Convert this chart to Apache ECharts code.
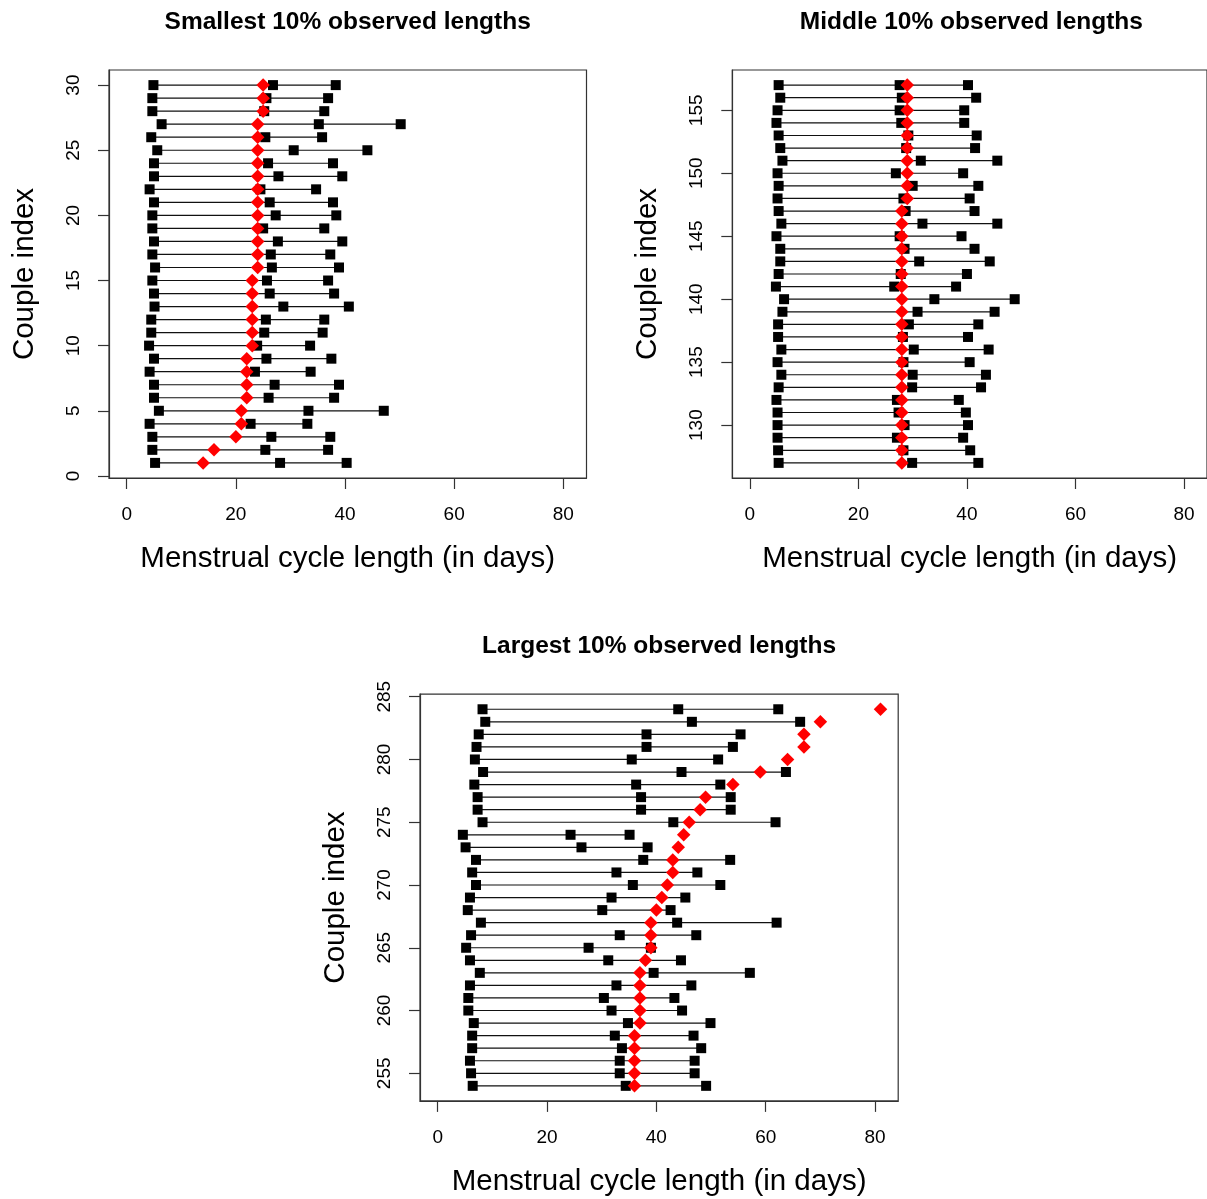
<!DOCTYPE html>
<html>
<head>
<meta charset="utf-8">
<script src="https://cdn.jsdelivr.net/npm/echarts@6/dist/echarts.min.js"></script>
<style>
  body { margin: 0; background: #fff; }
  #main { width: 1207px; height: 1199px; }
</style>
</head>
<body>
<div id="main"></div>
<script>
// x ticks shared by all panels
const xTicks = [0, 20, 40, 60, 80];

// smallest 10%
const smallRows = [1, 2, 3, 4, 5, 6, 7, 8, 9, 10, 11, 12, 13, 14, 15, 16, 17, 18, 19, 20, 21, 22, 23, 24, 25, 26, 27, 28, 29, 30];
const smallMin = [5.2, 4.7, 4.7, 4.2, 5.9, 5.0, 5.0, 4.2, 5.0, 4.1, 4.5, 4.5, 5.1, 5.0, 4.7, 5.2, 4.7, 5.0, 4.7, 4.7, 5.0, 4.2, 5.0, 5.0, 5.6, 4.5, 6.4, 4.7, 4.7, 4.9];
const smallMid = [28.1, 25.4, 26.5, 22.7, 33.3, 26.0, 27.1, 23.5, 25.6, 23.9, 25.2, 25.5, 28.7, 26.2, 25.7, 26.6, 26.4, 27.7, 25.0, 27.3, 26.2, 24.5, 27.8, 25.9, 30.6, 25.4, 35.2, 25.2, 25.6, 26.8];
const smallMax = [40.3, 36.9, 37.3, 33.1, 47.1, 38.0, 38.9, 33.7, 37.5, 33.6, 35.9, 36.2, 40.7, 38.0, 36.9, 38.9, 37.3, 39.5, 36.2, 38.4, 37.8, 34.7, 39.5, 37.8, 44.1, 35.8, 50.2, 36.2, 36.9, 38.3];
const smallEst = [14, 16, 20, 21, 21, 22, 22, 22, 22, 23, 23, 23, 23, 23, 23, 24, 24, 24, 24, 24, 24, 24, 24, 24, 24, 24, 24, 25, 25, 25];
const smallTicks = [0, 5, 10, 15, 20, 25, 30];

// middle 10%
const midRows = [127, 128, 129, 130, 131, 132, 133, 134, 135, 136, 137, 138, 139, 140, 141, 142, 143, 144, 145, 146, 147, 148, 149, 150, 151, 152, 153, 154, 155, 156, 157];
const midMin = [5.3, 5.2, 5.1, 5.1, 5.1, 4.9, 5.3, 5.8, 5.1, 5.8, 5.2, 5.2, 6.0, 6.3, 4.8, 5.3, 5.6, 5.6, 4.9, 5.8, 5.3, 5.1, 5.3, 5.1, 6.0, 5.6, 5.3, 4.9, 5.1, 5.6, 5.3];
const midMid = [29.9, 28.3, 27.1, 28.5, 27.4, 27.1, 29.9, 30.0, 28.3, 30.2, 28.2, 29.3, 30.9, 34.0, 26.6, 27.8, 31.2, 28.5, 27.6, 31.8, 28.7, 28.3, 30.0, 26.9, 31.5, 28.8, 29.2, 27.9, 27.6, 28.0, 27.6];
const midMax = [42.1, 40.6, 39.3, 40.2, 39.8, 38.5, 42.6, 43.5, 40.5, 44.0, 40.2, 42.1, 45.1, 48.8, 38.0, 40.0, 44.2, 41.4, 39.0, 45.6, 41.4, 40.5, 42.1, 39.3, 45.6, 41.5, 41.8, 39.5, 39.5, 41.7, 40.2];
const midEst = [28, 28, 28, 28, 28, 28, 28, 28, 28, 28, 28, 28, 28, 28, 28, 28, 28, 28, 28, 28, 28, 29, 29, 29, 29, 29, 29, 29, 29, 29, 29];
const midTicks = [130, 135, 140, 145, 150, 155];

// largest 10%
const largeRows = [254, 255, 256, 257, 258, 259, 260, 261, 262, 263, 264, 265, 266, 267, 268, 269, 270, 271, 272, 273, 274, 275, 276, 277, 278, 279, 280, 281, 282, 283, 284];
const largeMin = [6.4, 6.1, 5.9, 6.3, 6.3, 6.6, 5.6, 5.6, 5.9, 7.7, 5.9, 5.2, 6.1, 7.9, 5.5, 5.9, 7.0, 6.3, 7.0, 5.1, 4.6, 8.2, 7.3, 7.3, 6.7, 8.3, 6.8, 7.1, 7.5, 8.7, 8.2];
const largeMid = [34.4, 33.3, 33.3, 33.7, 32.4, 34.8, 31.8, 30.4, 32.7, 39.5, 31.2, 27.6, 33.3, 43.8, 30.1, 31.8, 35.7, 32.7, 37.6, 26.3, 24.3, 43.1, 37.2, 37.2, 36.3, 44.6, 35.5, 38.2, 38.2, 46.5, 44.0];
const largeMax = [49.1, 47.0, 47.0, 48.2, 46.8, 49.9, 44.7, 43.3, 46.4, 57.1, 44.5, 39.0, 47.3, 62.0, 42.6, 45.3, 51.7, 47.5, 53.5, 38.4, 35.1, 61.8, 53.6, 53.6, 51.7, 63.7, 51.3, 54.0, 55.4, 66.3, 62.3];
const largeEst = [36, 36, 36, 36, 36, 37, 37, 37, 37, 37, 38, 39, 39, 39, 40, 41, 42, 43, 43, 44, 45, 46, 48, 49, 54, 59, 64, 67, 67, 70, 81];
const largeTicks = [255, 260, 265, 270, 275, 280, 285];

const FONT = "'Liberation Sans', Arial, sans-serif";
const chart = echarts.init(document.getElementById('main'));

function xAxisFor(gi) {
  return {
    gridIndex: gi,
    type: 'value',
    min: -3.24,
    max: 84.24,
    name: 'Menstrual cycle length (in days)',
    nameLocation: 'middle',
    nameGap: 66,
    nameTextStyle: { fontFamily: FONT, fontSize: 29.5, color: '#000' },
    axisLine: { show: true, onZero: false, lineStyle: { color: '#333', width: 1.2 } },
    axisTick: { show: true, length: 11, customValues: xTicks, lineStyle: { color: '#333', width: 1.2 } },
    axisLabel: { customValues: xTicks, margin: 27, fontFamily: FONT, fontSize: 19, color: '#000' },
    splitLine: { show: false }
  };
}

function yAxisFor(gi, rows, ticks) {
  const ext = (rows[rows.length - 1] - rows[0]) * 0.04;
  return {
    gridIndex: gi,
    type: 'value',
    min: rows[0] - ext,
    max: rows[rows.length - 1] + ext,
    name: 'Couple index',
    nameLocation: 'middle',
    nameGap: 69,
    nameTextStyle: { fontFamily: FONT, fontSize: 29.5, color: '#000' },
    axisLine: { show: true, onZero: false, lineStyle: { color: '#333', width: 1.2 } },
    axisTick: { show: true, length: 11, customValues: ticks, lineStyle: { color: '#333', width: 1.2 } },
    axisLabel: { customValues: ticks, rotate: 90, margin: 26, fontFamily: FONT, fontSize: 19, color: '#000' },
    splitLine: { show: false }
  };
}

// segment from min to max for each couple
function renderSeg(params, api) {
  const a = api.coord([api.value(0), api.value(2)]);
  const b = api.coord([api.value(1), api.value(2)]);
  return {
    type: 'line',
    shape: { x1: a[0], y1: a[1], x2: b[0], y2: b[1] },
    style: { stroke: '#111', lineWidth: 1.2 }
  };
}

function panelSeries(gi, rows, mins, mids, maxs, ests) {
  const seg = rows.map((r, i) => [mins[i], maxs[i], r]);
  const pts = [];
  rows.forEach((r, i) => {
    pts.push([mins[i], r], [mids[i], r], [maxs[i], r]);
  });
  const est = rows.map((r, i) => [ests[i], r]);
  return [
    { type: 'custom', xAxisIndex: gi, yAxisIndex: gi, renderItem: renderSeg, encode: { x: [0, 1], y: 2 }, data: seg, silent: true, z: 1 },
    { type: 'scatter', xAxisIndex: gi, yAxisIndex: gi, symbol: 'rect', symbolSize: 10, itemStyle: { color: '#000', opacity: 1 }, data: pts, silent: true, z: 2 },
    { type: 'scatter', xAxisIndex: gi, yAxisIndex: gi, symbol: 'diamond', symbolSize: 13.5, itemStyle: { color: '#ff0000', opacity: 1 }, data: est, silent: true, z: 3 }
  ];
}

const gridStyle = { show: true, borderColor: '#333', borderWidth: 1.2, backgroundColor: 'transparent' };
const titleFont = "bold 24.5px " + FONT;

const option = {
  animation: false,
  backgroundColor: '#fff',
  grid: [
    Object.assign({ left: 109, top: 70, width: 477.5, height: 408 }, gridStyle),
    Object.assign({ left: 732.3, top: 70, width: 478.2, height: 408 }, gridStyle),
    Object.assign({ left: 420, top: 694.2, width: 478.2, height: 406.7 }, gridStyle)
  ],
  xAxis: [xAxisFor(0), xAxisFor(1), xAxisFor(2)],
  yAxis: [
    yAxisFor(0, smallRows, smallTicks),
    yAxisFor(1, midRows, midTicks),
    yAxisFor(2, largeRows, largeTicks)
  ],
  graphic: [
    { type: 'text', x: 347.7, y: 22, style: { text: 'Smallest 10% observed lengths', font: titleFont, fill: '#000', align: 'center', verticalAlign: 'middle' } },
    { type: 'text', x: 971.4, y: 22, style: { text: 'Middle 10% observed lengths', font: titleFont, fill: '#000', align: 'center', verticalAlign: 'middle' } },
    { type: 'text', x: 659.1, y: 646, style: { text: 'Largest 10% observed lengths', font: titleFont, fill: '#000', align: 'center', verticalAlign: 'middle' } }
  ],
  series: [].concat(
    panelSeries(0, smallRows, smallMin, smallMid, smallMax, smallEst),
    panelSeries(1, midRows, midMin, midMid, midMax, midEst),
    panelSeries(2, largeRows, largeMin, largeMid, largeMax, largeEst)
  )
};

chart.setOption(option);
</script>
</body>
</html>
